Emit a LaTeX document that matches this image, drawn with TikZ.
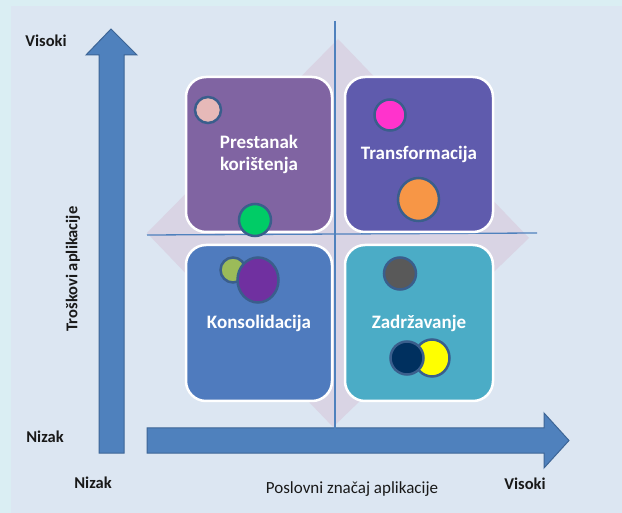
\documentclass[tikz,border=0pt]{standalone}
\usepackage{fontspec}
\setmainfont{Carlito}
\usetikzlibrary{shapes.geometric}
\definecolor{outerbg}{HTML}{DAEEF3}
\definecolor{panelbg}{HTML}{DCE6F2}
\definecolor{diamondc}{HTML}{D9D4E4}
\definecolor{arrowfill}{HTML}{4F81BD}
\definecolor{arrowedge}{HTML}{3D6596}
\definecolor{linec}{HTML}{4F81BD}
\definecolor{boxtl}{HTML}{8064A2}
\definecolor{boxtr}{HTML}{5F5BAD}
\definecolor{boxbl}{HTML}{4F7BBE}
\definecolor{boxbr}{HTML}{4BACC6}
\definecolor{dotedge}{HTML}{3A5E8C}
\definecolor{cpink}{HTML}{E6B9B8}
\definecolor{cgreen}{HTML}{00CC66}
\definecolor{cmagenta}{HTML}{FF33CC}
\definecolor{corange}{HTML}{F79646}
\definecolor{clgreen}{HTML}{9BBB59}
\definecolor{cpurple}{HTML}{7030A0}
\definecolor{cgray}{HTML}{595959}
\definecolor{cyellow}{HTML}{FFFF00}
\definecolor{cnavy}{HTML}{00305F}
\tikzset{
  quadbox/.style={draw=white, line width=2.5pt, rounded corners=20pt,
    minimum width=#1, text=white, font=\bfseries\fontsize{19}{22}\selectfont, align=center},
  quadbox/.default=146pt,
  dot/.style={ellipse, draw=dotedge, line width=2.5pt, inner sep=0pt},
  axlabel/.style={font=\bfseries\fontsize{16.5}{19}\selectfont, text=black!90},
  axarrow/.style={fill=arrowfill, draw=arrowedge, line width=1pt},
  crossline/.style={draw=linec, line width=1.3pt}
}
\begin{document}
\begin{tikzpicture}[x=1pt,y=-1pt]
\useasboundingbox (0,0) rectangle (622,513);
\fill[outerbg] (0,0) rectangle (622,513);
\fill[panelbg] (11,6) rectangle (622,513);
% diamond
\fill[diamondc] (338,39) -- (529,238) -- (333,427) -- (147,233) -- cycle;
% axes arrows
\draw[axarrow] (99,453) -- (99,55) -- (86,55) -- (111,29) -- (137,55) -- (124,55) -- (124,453) -- cycle;
\draw[axarrow] (147,428) -- (544,428) -- (544,413) -- (569,440.5) -- (544,468) -- (544,453) -- (147,453) -- cycle;
% cross lines
\coordinate (vt) at (335,21);
\coordinate (vb) at (335,437);
\coordinate (hl) at (147,235);
\coordinate (hr) at (537,233);
\draw[crossline] (vt) -- (vb);
\draw[crossline] (hl) -- (hr);
% quadrant boxes
\node[quadbox=146pt, fill=boxtl, minimum height=155pt] (tl) at (259,154.5) {Prestanak\\korištenja};
\node[quadbox=148pt, fill=boxtr, minimum height=155pt] (tr) at (419,154.5) {Transformacija};
\node[quadbox=146pt, fill=boxbl, minimum height=156pt] (bl) at (259,323) {Konsolidacija};
\node[quadbox=148pt, fill=boxbr, minimum height=156pt] (br) at (419,323) {Zadržavanje};
% dots
\node[dot, fill=cpink, minimum width=26pt, minimum height=26pt] (d1) at (208,110) {};
\node[dot, fill=cgreen, minimum width=32pt, minimum height=32pt] (d2) at (255,220) {};
\node[dot, fill=cmagenta, minimum width=31pt, minimum height=31pt] (d3) at (390,115) {};
\node[dot, fill=corange, minimum width=41pt, minimum height=43pt] (d4) at (418.5,199.5) {};
\node[dot, fill=clgreen, minimum width=25pt, minimum height=25pt] (d5) at (233,270) {};
\node[dot, fill=cpurple, minimum width=41pt, minimum height=45pt] (d6) at (258,280) {};
\node[dot, fill=cgray, minimum width=32pt, minimum height=32pt] (d7) at (400,273.5) {};
\node[dot, fill=cyellow, minimum width=35pt, minimum height=37pt] (d8) at (432,358) {};
\node[dot, fill=cnavy, minimum width=33pt, minimum height=33pt] (d9) at (407,358) {};
% axis labels
\node[axlabel] (ylh) at (46,41) {Visoki};
\node[axlabel] (yll) at (45,437) {Nizak};
\node[axlabel, rotate=90] (ylab) at (73,269) {Troškovi aplikacije};
\node[axlabel] (xll) at (93,483) {Nizak};
\node[axlabel] (xlh) at (525,484) {Visoki};
\node[font=\fontsize{17}{20}\selectfont, text=black!90] (xlab) at (352,489) {Poslovni značaj aplikacije};
\end{tikzpicture}
\end{document}
